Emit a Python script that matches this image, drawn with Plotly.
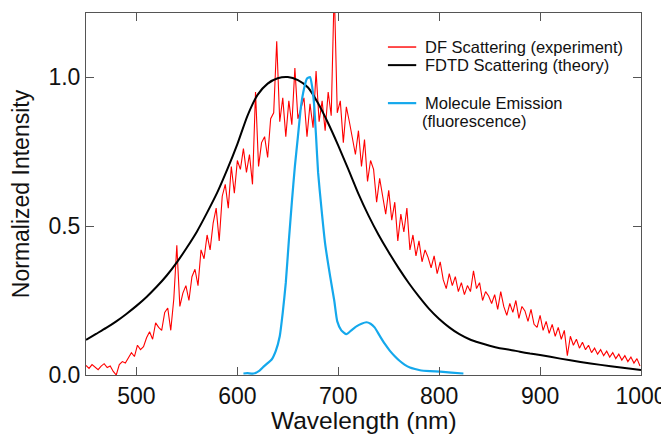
import plotly.graph_objects as go

# ---------------- data ----------------
df_wavelength = list(range(450, 1000, 3))
df_intensity = [
    0.032, 0.022, 0.035, 0.028, 0.018, 0.030, 0.038, 0.025, 0.030, 0.012,
    0.000, 0.035, 0.045, 0.040, 0.060, 0.075, 0.062, 0.100, 0.085, 0.095,
    0.125, 0.145, 0.120, 0.175, 0.160, 0.150, 0.210, 0.225, 0.150, 0.255,
    0.435, 0.230, 0.275, 0.300, 0.250, 0.330, 0.355, 0.300, 0.420, 0.390,
    0.470, 0.420, 0.510, 0.560, 0.450, 0.600, 0.640, 0.560, 0.700, 0.610,
    0.720, 0.690, 0.760, 0.680, 0.740, 0.640, 0.950, 0.700, 0.780, 0.800,
    0.730, 0.860, 0.880, 1.120, 0.850, 0.930, 0.800, 0.920, 0.840, 1.030,
    0.860, 0.900, 0.930, 0.800, 0.910, 0.830, 1.020, 0.850, 0.920, 0.820,
    0.950, 0.870, 1.300, 0.880, 0.920, 0.780, 0.900, 0.850, 0.800, 0.740,
    0.820, 0.700, 0.790, 0.650, 0.720, 0.690, 0.580, 0.660, 0.600, 0.540,
    0.620, 0.520, 0.580, 0.450, 0.540, 0.480, 0.560, 0.420, 0.470, 0.400,
    0.450, 0.380, 0.420, 0.395, 0.360, 0.400, 0.340, 0.380, 0.320, 0.290,
    0.340, 0.300, 0.330, 0.280, 0.310, 0.270, 0.300, 0.280, 0.350, 0.290,
    0.310, 0.250, 0.280, 0.265, 0.240, 0.270, 0.220, 0.280, 0.230, 0.200,
    0.240, 0.210, 0.250, 0.190, 0.230, 0.215, 0.180, 0.220, 0.170, 0.160,
    0.200, 0.150, 0.180, 0.140, 0.170, 0.130, 0.160, 0.120, 0.150, 0.065,
    0.130, 0.100, 0.120, 0.090, 0.110, 0.085, 0.100, 0.075, 0.090, 0.070,
    0.085, 0.065, 0.080, 0.060, 0.075, 0.055, 0.070, 0.050, 0.065, 0.045,
    0.060, 0.040, 0.055, 0.030,
]

fdtd_wavelength = [450, 460, 470, 480, 490, 500, 510, 520, 530, 540, 550, 560,
                   570, 580, 590, 600, 610, 620, 630, 640, 650, 660, 670, 680,
                   690, 700, 710, 720, 730, 740, 750, 760, 770, 780, 790, 800,
                   810, 820, 830, 840, 850, 860, 870, 880, 890, 900, 920, 940,
                   960, 980, 1000]
fdtd_intensity = [0.118, 0.138, 0.158, 0.180, 0.205, 0.232, 0.262, 0.296, 0.334,
                  0.378, 0.428, 0.482, 0.545, 0.612, 0.690, 0.775, 0.870, 0.940,
                  0.978, 0.996, 1.000, 0.990, 0.965, 0.912, 0.845, 0.770, 0.690,
                  0.608, 0.535, 0.470, 0.412, 0.358, 0.308, 0.263, 0.222, 0.188,
                  0.160, 0.137, 0.120, 0.108, 0.098, 0.090, 0.085, 0.078, 0.072,
                  0.067, 0.055, 0.044, 0.034, 0.025, 0.017]

em_wavelength = [606, 610, 616, 622, 626, 630, 634, 638, 642, 645, 648, 651, 654,
                 657, 660, 663, 666, 669, 672, 674, 676, 678, 680, 683, 687, 692,
                 696, 699, 703, 708, 713, 718, 723, 728, 732, 736, 741, 746, 751,
                 756, 761, 766, 771, 776, 781, 791, 801, 812, 824]
em_intensity = [0.005, 0.006, 0.005, 0.015, 0.028, 0.040, 0.052, 0.080, 0.130,
                0.210, 0.310, 0.450, 0.580, 0.700, 0.800, 0.900, 0.960, 0.995,
                1.000, 0.970, 0.910, 0.800, 0.680, 0.570, 0.440, 0.330, 0.250,
                0.180, 0.150, 0.137, 0.150, 0.163, 0.172, 0.177, 0.172, 0.160,
                0.132, 0.105, 0.082, 0.063, 0.047, 0.034, 0.025, 0.020, 0.016,
                0.013, 0.011, 0.008, 0.005]

x_ticks = [500, 600, 700, 800, 900, 1000]
y_ticks = [0.0, 0.5, 1.0]
y_tick_labels = ["0.0", "0.5", "1.0"]

series_names = ["DF Scattering (experiment)", "FDTD Scattering (theory)",
                "Molecule Emission", "(fluorescence)"]
series_colors = ["#ff0000", "#000000", "#14a8ec"]
series_widths = [1.1, 2.0, 2.2]

FONT = "Arial, Liberation Sans, sans-serif"
TEXT = "#111111"

fig = go.Figure()
fig.add_trace(go.Scatter(
    x=df_wavelength, y=df_intensity, mode="lines", name=series_names[0],
    line=dict(color=series_colors[0], width=series_widths[0]),
))
fig.add_trace(go.Scatter(
    x=fdtd_wavelength, y=fdtd_intensity, mode="lines", name=series_names[1],
    line=dict(color=series_colors[1], width=series_widths[1], shape="spline", smoothing=0.6),
))
fig.add_trace(go.Scatter(
    x=em_wavelength, y=em_intensity, mode="lines", name=series_names[2],
    line=dict(color=series_colors[2], width=series_widths[2], shape="spline", smoothing=0.5),
))

axis_common = dict(
    showline=True, linecolor="#555555", linewidth=1, mirror="ticks",
    ticks="inside", ticklen=8, tickcolor="#555555", tickwidth=1,
    showgrid=False, zeroline=False, automargin=False,
    tickfont=dict(family=FONT, size=23, color=TEXT),
)

# hand-built legend (paper coordinates)
leg_x0, leg_x1, leg_tx = 0.544, 0.595, 0.607
leg_rows = [0.906, 0.856, 0.751]
for name, color, width, yy in zip(series_names[:3], series_colors, series_widths, leg_rows):
    fig.add_shape(type="line", xref="paper", yref="paper",
                  x0=leg_x0, x1=leg_x1, y0=yy, y1=yy,
                  line=dict(color=color, width=max(width, 1.4)))
    fig.add_annotation(xref="paper", yref="paper", x=leg_tx, y=yy,
                       xanchor="left", yanchor="middle", showarrow=False,
                       text=name, font=dict(family=FONT, size=16.5, color=TEXT))
fig.add_annotation(xref="paper", yref="paper", x=0.602, y=0.702,
                   xanchor="left", yanchor="middle", showarrow=False,
                   text=series_names[3], font=dict(family=FONT, size=16.5, color=TEXT))

# x-axis title placed as an annotation for precise vertical position
fig.add_annotation(xref="paper", yref="paper", x=0.5, y=-0.125,
                   xanchor="center", yanchor="middle", showarrow=False,
                   text="Wavelength (nm)", font=dict(family=FONT, size=24.5, color=TEXT))

# the page body adds an 8 px offset, so the figure is sized to the visible area
fig.update_layout(
    width=661, height=431,
    margin=dict(l=78, r=28, t=5, b=64),
    paper_bgcolor="white", plot_bgcolor="white",
    font=dict(family=FONT, color=TEXT),
    showlegend=False,
    xaxis=dict(range=[450, 1000], tickvals=x_ticks, **axis_common),
    yaxis=dict(range=[0, 1.215], tickvals=y_ticks, ticktext=y_tick_labels,
               title=dict(text="Normalized Intensity", font=dict(family=FONT, size=23), standoff=12),
               **axis_common),
)

fig.write_html("out.html")
